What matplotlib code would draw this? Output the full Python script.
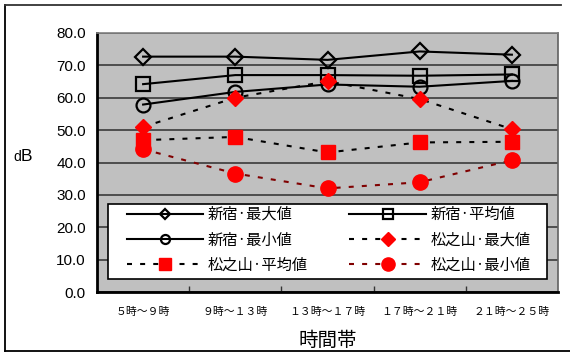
import matplotlib
matplotlib.use("Agg")
import matplotlib.pyplot as plt
from matplotlib.lines import Line2D
from matplotlib.patches import Rectangle
from matplotlib.ticker import FixedLocator

categories = ["５時～９時", "９時～１３時", "１３時～１７時", "１７時～２１時", "２１時～２５時"]
shinjuku_max = [72.7, 72.7, 71.7, 74.3, 73.3]
shinjuku_avg = [64.2, 67.0, 67.0, 66.8, 67.2]
shinjuku_min = [57.9, 61.8, 64.1, 63.4, 65.2]
matsu_max = [51.0, 60.0, 65.1, 59.6, 50.3]
matsu_avg = [46.9, 47.9, 43.1, 46.2, 46.4]
matsu_min = [44.1, 36.6, 32.0, 33.9, 40.7]
labels = ["新宿·最大値", "新宿·平均値", "新宿·最小値", "松之山·最大値", "松之山·平均値", "松之山·最小値"]
yticks = [0, 10, 20, 30, 40, 50, 60, 70, 80]

plt.rcParams['font.family'] = ['Noto Sans CJK JP', 'DejaVu Sans']

W, H = 570, 356
fig = plt.figure(figsize=(W / 100, H / 100), dpi=100)
fig.patch.set_facecolor('white')
ax = fig.add_axes([97 / W, 1 - 292 / H, (558 - 97) / W, (292 - 33) / H])
ax.set_facecolor('#C0C0C0')

x = list(range(len(categories)))
dash = (0, (2.4, 3.9))
lw = 1.5
styles = [
    dict(color='black', lw=lw, marker='D', mfc='none', mec='black', mew=1.6),
    dict(color='black', lw=lw, marker='s', mfc='none', mec='black', mew=1.6),
    dict(color='black', lw=lw, marker='o', mfc='none', mec='black', mew=1.6),
    dict(color='black', lw=lw, ls=dash, marker='D', mfc='red', mec='red'),
    dict(color='black', lw=lw, ls=dash, marker='s', mfc='red', mec='red'),
    dict(color='#800000', lw=lw, ls=dash, marker='o', mfc='red', mec='red'),
]
plot_ms = [8, 10, 10, 8.5, 10, 11]
leg_ms = [5.5, 6.5, 6.5, 7.5, 8.5, 9.5]
series = [shinjuku_max, shinjuku_avg, shinjuku_min, matsu_max, matsu_avg, matsu_min]

handles = []
for vals, st, ms, lms, lab in zip(series, styles, plot_ms, leg_ms, labels):
    ax.plot(x, vals, ms=ms, **st)
    handles.append(Line2D([], [], ms=lms, label=lab, **st))

ax.set_xlim(-0.5, len(categories) - 0.5)
ax.set_ylim(0, 80)
ax.set_yticks(yticks)
ax.set_yticklabels([f"{v:.1f}" for v in yticks], family='Liberation Sans', fontsize=11)
ax.yaxis.grid(True, color='#3a3a3a', lw=1.2)
ax.set_axisbelow(True)
ax.tick_params(axis='y', direction='in', length=0, pad=8)

ax.set_xticks(x)
ax.set_xticklabels(categories, fontsize=7.8)
ax.tick_params(axis='x', length=0, pad=11)
ax.xaxis.set_minor_locator(FixedLocator([0.5, 1.5, 2.5, 3.5]))
ax.tick_params(axis='x', which='minor', direction='in', length=4, width=1, color='#333333')

for s in ['left', 'bottom']:
    ax.spines[s].set_linewidth(2)
    ax.spines[s].set_color('black')
ax.spines['top'].set_color('#808080')
ax.spines['right'].set_color('#606060')
ax.spines['top'].set_linewidth(1.2)
ax.spines['right'].set_linewidth(1.2)

ax.set_xlabel("時間帯", fontsize=14, labelpad=9)
fig.text(21 / W, 1 - 161 / H, "d", family=['Liberation Sans'], fontsize=10, ha='right', va='baseline',
         transform=fig.transFigure)
fig.text(21 / W, 1 - 161 / H, "B", family=['Liberation Sans'], fontsize=12.5, ha='left', va='baseline',
         transform=fig.transFigure)

# legend box
ax.add_patch(Rectangle((108 / W, 1 - 279 / H), (547 - 108) / W, (279 - 204) / H,
                       transform=fig.transFigure, facecolor='white', edgecolor='black', lw=1.2, zorder=4))
order = [0, 2, 4, 1, 3, 5]
leg = fig.legend(handles=[handles[i] for i in order], ncol=2, loc='upper left',
                 bbox_to_anchor=(127 / W, 1 - 206 / H), borderaxespad=0, borderpad=0,
                 fontsize=11, handlelength=5.0, handletextpad=0.3, labelspacing=0.55,
                 frameon=False, columnspacing=2.7)
leg.set_zorder(5)

# figure border lines
fig.add_artist(Line2D([5 / W, 5 / W], [1 - 5 / H, 1 - 351 / H], color='black', lw=1.3, transform=fig.transFigure))
fig.add_artist(Line2D([5 / W, 561 / W], [1 - 5 / H, 1 - 5 / H], color='#333333', lw=1.3, transform=fig.transFigure))
fig.add_artist(Line2D([5 / W, 1.0], [1 - 351 / H, 1 - 351 / H], color='black', lw=1.3, transform=fig.transFigure))

fig.savefig("out.png", dpi=100, facecolor='white')
